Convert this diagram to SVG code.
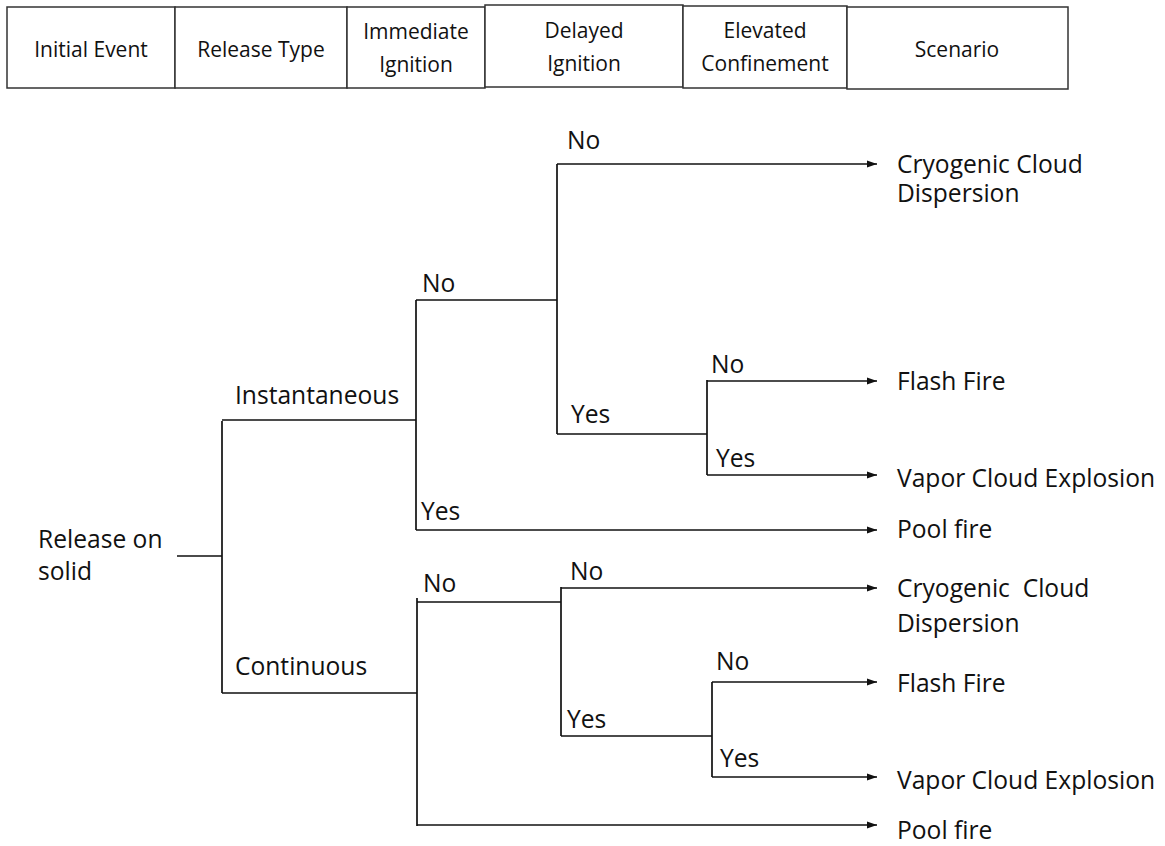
<svg xmlns="http://www.w3.org/2000/svg" width="1165" height="846" viewBox="0 0 1165 846">
<style>
text{font-family:"Open Sans","Noto Sans","Liberation Sans",sans-serif;fill:#111;}
.h{font-size:21px;text-anchor:middle;}
.t{font-size:24.6px;white-space:pre;}
.cell{fill:#fff;stroke:#333;stroke-width:1.5;}
.ln{fill:none;stroke:#111;stroke-width:1.7;}
.ar{fill:none;stroke:#111;stroke-width:1.7;marker-end:url(#ah);}
</style>
<defs>
<marker id="ah" markerUnits="userSpaceOnUse" markerWidth="11" markerHeight="8" refX="10" refY="4" orient="auto">
<path d="M0,0.5 L10,4 L0,7.5 z" fill="#111"/>
</marker>
</defs>
<rect width="1165" height="846" fill="#fff"/>
<g id="header">
<g id="h-initial"><rect class="cell" x="7" y="7" width="168" height="81"/><text class="h" x="91" y="57">Initial Event</text></g>
<g id="h-release"><rect class="cell" x="175" y="7" width="172" height="81"/><text class="h" x="261" y="57">Release Type</text></g>
<g id="h-immediate"><rect class="cell" x="347" y="7" width="138" height="81"/><text class="h" x="416" y="39">Immediate</text><text class="h" x="416" y="72">Ignition</text></g>
<g id="h-delayed"><rect class="cell" x="485" y="5" width="198" height="82"/><text class="h" x="584" y="38">Delayed</text><text class="h" x="584" y="71">Ignition</text></g>
<g id="h-elevated"><rect class="cell" x="683" y="6" width="164" height="82"/><text class="h" x="765" y="38">Elevated</text><text class="h" x="765" y="71">Confinement</text></g>
<g id="h-scenario"><rect class="cell" x="847" y="7" width="221" height="82"/><text class="h" x="957" y="57">Scenario</text></g>
</g>
<g id="connectors">
<path class="ln" d="M177,556 H222 M222,421 V693 M222,420 H416 M416,300 V530 M416,300 H557 M557,164 V434 M557,434 H707 M707,380 V475"/>
<path class="ar" d="M557,164 H877"/>
<path class="ar" d="M707,381 H877"/>
<path class="ar" d="M707,475 H877"/>
<path class="ar" d="M416,530 H877"/>
<path class="ln" d="M222,693 H417 M417,598 V826 M417,602 H561 M561,587 V736 M561,736 H712 M712,682 V777"/>
<path class="ar" d="M561,588 H877"/>
<path class="ar" d="M712,682 H877"/>
<path class="ar" d="M712,777 H877"/>
<path class="ar" d="M417,825 H877"/>
</g>
<g id="branch-labels">
<text class="t" x="567" y="149">No</text>
<text class="t" x="422" y="292">No</text>
<text class="t" x="571" y="423">Yes</text>
<text class="t" x="711" y="373">No</text>
<text class="t" x="716" y="467">Yes</text>
<text class="t" x="421" y="520">Yes</text>
<text class="t" x="423" y="592">No</text>
<text class="t" x="570" y="580">No</text>
<text class="t" x="567" y="728">Yes</text>
<text class="t" x="716" y="670">No</text>
<text class="t" x="720" y="767">Yes</text>
</g>
<g id="root"><text class="t" x="38" y="548">Release on</text><text class="t" x="38" y="580">solid</text></g>
<g id="instantaneous"><text class="t" x="235" y="404">Instantaneous</text></g>
<g id="continuous"><text class="t" x="235" y="675">Continuous</text></g>
<g id="s1"><text class="t" x="897" y="173">Cryogenic Cloud</text><text class="t" x="897" y="202">Dispersion</text></g>
<g id="s2"><text class="t" x="897" y="390">Flash Fire</text></g>
<g id="s3"><text class="t" x="897" y="487">Vapor Cloud Explosion</text></g>
<g id="s4"><text class="t" x="897" y="538">Pool fire</text></g>
<g id="s5"><text class="t" x="897" y="597" xml:space="preserve">Cryogenic  Cloud</text><text class="t" x="897" y="632">Dispersion</text></g>
<g id="s6"><text class="t" x="897" y="692">Flash Fire</text></g>
<g id="s7"><text class="t" x="897" y="789">Vapor Cloud Explosion</text></g>
<g id="s8"><text class="t" x="897" y="839">Pool fire</text></g>
</svg>
